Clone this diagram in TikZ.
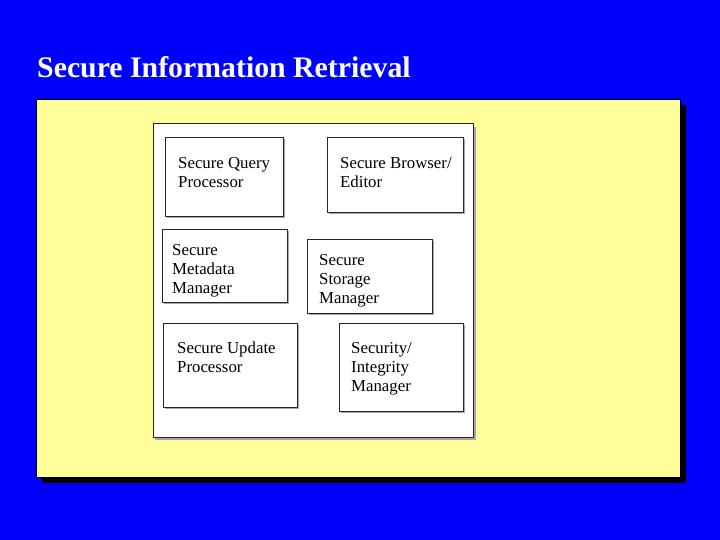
\documentclass[tikz,border=0pt]{standalone}
\usepackage{fontspec}
\setmainfont{Liberation Serif}
\definecolor{slideblue}{RGB}{0,0,255}
\definecolor{paneyellow}{RGB}{255,255,153}
\tikzset{
  modbox/.style={draw=black!85, line width=1.3pt, fill=white, anchor=north west, inner sep=0pt},
  modtext/.style={anchor=base west, inner sep=0pt, align=left, font=\fontsize{16.8}{19}\selectfont},
  modshadow/.style={fill=black!35},
}
\begin{document}
\begin{tikzpicture}[x=1pt,y=-1pt]
    % background and title
    \fill[slideblue] (0,0) rectangle (720,540);
    \useasboundingbox (0,0) rectangle (720,540);
    \node[anchor=base west, inner sep=0pt, text=white, font=\fontsize{29.8}{32}\selectfont\bfseries] (title) at (37,78) {Secure Information Retrieval};
    % yellow panel
    \fill[black] (42,105) rectangle (686,483);
    \draw[black, line width=0.8pt, fill=paneyellow] (36,99) rectangle (680,477);
    % white frame
    \fill[modshadow] (155,127) rectangle (476,440);
    \draw[black!85, line width=1pt, fill=white] (153,124) rectangle (473,437);
    % modules
    \foreach \x/\y/\w/\h in {165/137/118/79, 327/137/136/75, 162/229/125/73, 307/239/125/74, 163/323/134/84, 339/323/124/88} {
      \fill[modshadow] (\x+2,\y+2) rectangle (\x+\w+2,\y+\h+2);
    }
    \node[modbox, minimum width=118pt, minimum height=79pt] (query) at (165,137) {};
    \node[modbox, minimum width=136pt, minimum height=75pt] (browser) at (327,137) {};
    \node[modbox, minimum width=125pt, minimum height=73pt] (meta) at (162,229) {};
    \node[modbox, minimum width=125pt, minimum height=74pt] (storage) at (307,239) {};
    \node[modbox, minimum width=134pt, minimum height=84pt] (update) at (163,323) {};
    \node[modbox, minimum width=124pt, minimum height=88pt] (integrity) at (339,323) {};
    % labels (base = last line)
    \node[modtext] (querytxt) at (178,188) {Secure Query\\Processor};
    \node[modtext] (browsertxt) at (340,188) {Secure Browser/\\Editor};
    \node[modtext] (metatxt) at (172,293) {Secure\\Metadata\\Manager};
    \node[modtext] (storagetxt) at (319,303) {Secure\\Storage\\Manager};
    \node[modtext] (updatetxt) at (177,372) {Secure Update\\Processor};
    \node[modtext] (integritytxt) at (351,391) {Security/\\Integrity\\Manager};
\end{tikzpicture}
\end{document}
